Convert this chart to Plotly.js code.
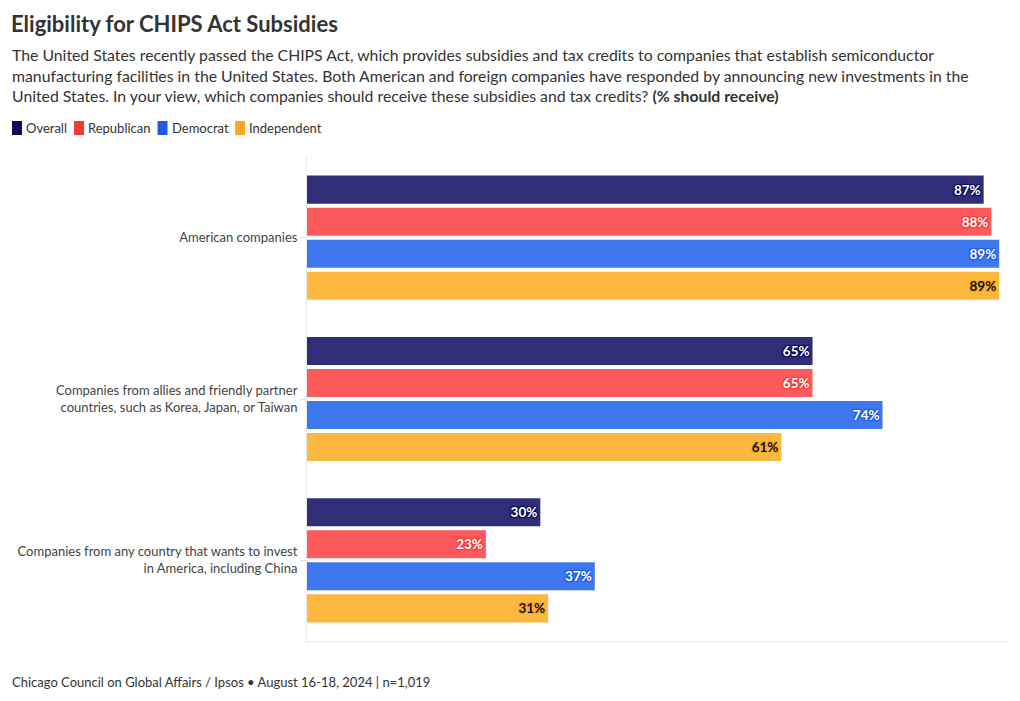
<!DOCTYPE html>
<html>
<head>
<meta charset="utf-8">
<script src="https://cdn.plot.ly/plotly-3.0.1.min.js"></script>
<style>html,body{margin:0;padding:0;background:#fff;}#chart{width:1020px;height:701px;}</style>
</head>
<body>
<div id="chart"></div>
<script>
// ---- data ----
const categories = [
  "American companies",
  "Companies from allies and friendly partner<br>countries, such as Korea, Japan, or Taiwan",
  "Companies from any country that wants to invest<br>in America, including China"
];
const seriesNames = ["Overall", "Republican", "Democrat", "Independent"];
const overall     = [87, 65, 30];
const republican  = [88, 65, 23];
const democrat    = [89, 74, 37];
const independent = [89, 61, 31];
const seriesValues = [overall, republican, democrat, independent];

// ---- styles ----
const FONT = "Lato, 'Noto Sans', sans-serif";
const barColors    = ["#2f2e76", "#fd5b5b", "#3f78ee", "#fdb83f"];
const legendColors = ["#0c0b55", "#f23a3a", "#1e5ae6", "#f9a823"];
const textColors   = ["#ffffff", "#ffffff", "#ffffff", "#111111"];

const W = 1020, H = 701;
const M = {l: 307, r: 13, t: 157, b: 60};
const PW = W - M.l - M.r, PH = H - M.t - M.b;
const px = x => (x - M.l) / PW;
const py = y => (H - M.b - y) / PH;

const traces = seriesNames.map((name, i) => ({
  type: "bar",
  orientation: "h",
  name: name,
  y: categories,
  x: seriesValues[i],
  marker: {color: barColors[i]},
  text: seriesValues[i].map(v => v + "%"),
  textposition: "inside",
  insidetextanchor: "end",
  textangle: 0,
  textfont: {family: FONT, size: 13.5, weight: 700, color: textColors[i],
    shadow: `1px 1px 1px ${legendColors[i]}, -1px -1px 1px ${legendColors[i]}, 1px -1px 1px ${legendColors[i]}, -1px 1px 1px ${legendColors[i]}`},
  hoverinfo: "x+name",
  cliponaxis: false
}));

// custom legend: swatches + labels
const ctx = document.createElement("canvas").getContext("2d");
ctx.font = "13px Lato";
const shapes = [];
const annotations = [];
let cx = 12;
seriesNames.forEach((n, i) => {
  shapes.push({type: "rect", xref: "paper", yref: "paper",
    x0: px(cx), x1: px(cx + 10), y0: py(135), y1: py(121),
    fillcolor: legendColors[i], line: {width: 0}});
  annotations.push({xref: "paper", yref: "paper", x: px(cx + 12), y: py(128),
    xanchor: "left", yanchor: "middle", showarrow: false, text: n,
    font: {family: FONT, size: 13, color: "#333"}});
  cx += 12 + ctx.measureText(n).width + 9;
});

annotations.push({
  xref: "paper", yref: "paper", x: px(10), y: py(43), xanchor: "left", yanchor: "top",
  align: "left", showarrow: false,
  text: "The United States recently passed the CHIPS Act, which provides subsidies and tax credits to companies that establish semiconductor<br>" +
        "manufacturing facilities in the United States. Both American and foreign companies have responded by announcing new investments in the<br>" +
        "United States. In your view, which companies should receive these subsidies and tax credits? <b>(% should receive)</b>",
  font: {family: FONT, size: 15.8, color: "#333"}
});
annotations.push({
  xref: "paper", yref: "paper", x: px(10), y: py(682), xanchor: "left", yanchor: "middle",
  showarrow: false,
  text: "Chicago Council on Global Affairs / Ipsos • August 16-18, 2024 | n=1,019",
  font: {family: FONT, size: 13, color: "#333"}
});

const layout = {
  width: W, height: H,
  margin: M,
  paper_bgcolor: "#fff", plot_bgcolor: "#fff",
  font: {family: FONT, color: "#333"},
  title: {text: "<b>Eligibility for CHIPS Act Subsidies</b>", xref: "container", yref: "container",
    x: 11 / W, xanchor: "left", y: 1 - 24 / H, yanchor: "middle",
    font: {family: FONT, size: 22, color: "#333"}},
  showlegend: false,
  barmode: "group",
  bargap: 0.206,
  bargroupgap: 0.125,
  xaxis: {range: [0, 90], showticklabels: false, showgrid: false, zeroline: false,
    showline: true, linecolor: "#e8e8e8", linewidth: 1, fixedrange: true},
  yaxis: {autorange: "reversed", showgrid: false, zeroline: false, showline: true,
    linecolor: "#e8e8e8", linewidth: 1, ticks: "outside", ticklen: 6, tickcolor: "#e0e0e0",
    tickfont: {family: FONT, size: 13, color: "#444"}, fixedrange: true},
  shapes: shapes,
  annotations: annotations,
  uniformtext: {mode: false}
};

Plotly.newPlot("chart", traces, layout, {displayModeBar: false, responsive: false});
</script>
</body>
</html>
